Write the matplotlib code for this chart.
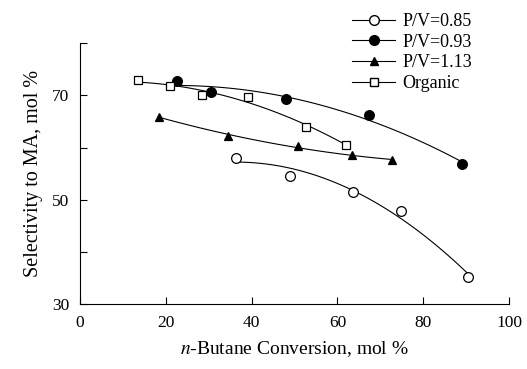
import numpy as np
from matplotlib import pyplot as plt

plt.rcParams['font.family'] = ['Liberation Serif', 'DejaVu Serif']
plt.rcParams['mathtext.fontset'] = 'stix'

# P/V = 0.85 (open circles)
x_085 = [36.4, 48.9, 63.6, 74.9, 90.5]
y_085 = [58.0, 54.6, 51.5, 47.9, 35.1]
# P/V = 0.93 (filled circles)
x_093 = [22.7, 30.4, 47.9, 67.3, 89.0]
y_093 = [72.8, 70.6, 69.3, 66.2, 56.9]
# P/V = 1.13 (filled triangles)
x_113 = [18.5, 34.5, 50.7, 63.3, 72.6]
y_113 = [65.9, 62.2, 60.2, 58.6, 57.6]
# Organic (open squares)
x_org = [13.6, 21.0, 28.4, 39.1, 52.7, 62.0]
y_org = [72.9, 71.7, 70.1, 69.7, 64.0, 60.5]

fig = plt.figure(figsize=(5.27, 3.69), dpi=100)
ax = fig.add_axes([0.152, 0.176, 0.814, 0.707])


def smooth(x, y):
    # quadratic trend curve through the points
    c = np.polyfit(x, y, 2)
    xs = np.linspace(min(x), max(x), 100)
    return xs, np.polyval(c, xs)


series = [
    (x_085, y_085, 'P/V=0.85', dict(marker='o', mfc='white', ms=7)),
    (x_093, y_093, 'P/V=0.93', dict(marker='o', mfc='black', ms=7)),
    (x_113, y_113, 'P/V=1.13', dict(marker='^', mfc='black', ms=6)),
    (x_org, y_org, 'Organic', dict(marker='s', mfc='white', ms=5.8)),
]

for x, y, lab, st in series:
    xs, ys = smooth(x, y)
    ax.plot(xs, ys, color='black', lw=0.8)
    ax.plot(x, y, ls='none', color='black', mew=0.9, **st)
    # legend handle
    ax.plot([], [], color='black', lw=0.8, label=lab, **st)

ax.set_xlim(0, 100)
ax.set_ylim(30, 80)
ax.set_xticks([0, 20, 40, 60, 80, 100])
ax.set_yticks([30, 50, 70])
ax.set_yticks([40, 60, 80], minor=True)
ax.tick_params(direction='in', length=5, width=0.8, labelsize=12.5, pad=8)
ax.tick_params(which='minor', direction='in', length=5, width=0.8)

ax.spines['top'].set_visible(False)
ax.spines['right'].set_visible(False)

ax.set_xlabel('$n$-Butane Conversion, mol %', fontsize=14, labelpad=6)
ax.set_ylabel('Selectivity to MA, mol %', fontsize=14.5, labelpad=6)

leg = ax.legend(loc='upper left', bbox_to_anchor=(0.634, 1.115), frameon=False,
                fontsize=13, handlelength=2.4, handletextpad=0.4,
                labelspacing=0.2, borderpad=0, borderaxespad=0)

plt.savefig('out.png', dpi=100)
